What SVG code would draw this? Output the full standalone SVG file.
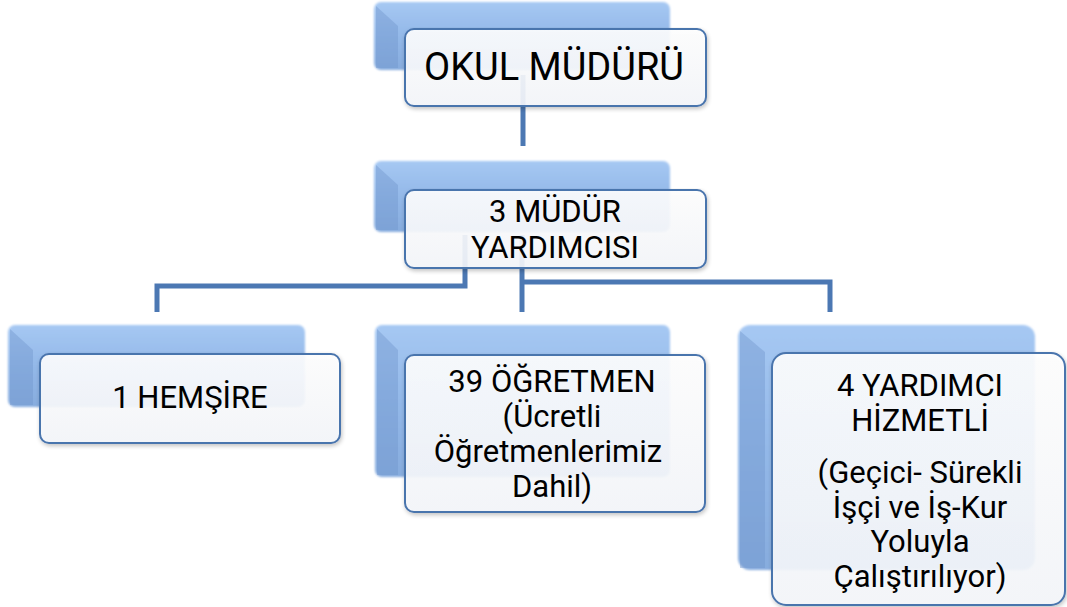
<svg xmlns="http://www.w3.org/2000/svg" width="1067" height="607" viewBox="0 0 1067 607">
<defs>
<linearGradient id="blueG" x1="0" y1="0" x2="0" y2="1">
<stop offset="0" stop-color="#a6c8f3"/>
<stop offset="0.5" stop-color="#93b8e8"/>
<stop offset="1" stop-color="#87acde"/>
</linearGradient>
<linearGradient id="whiteG" x1="0" y1="0" x2="0" y2="1">
<stop offset="0" stop-color="#ffffff"/>
<stop offset="1" stop-color="#f5f7fb"/>
</linearGradient>
<filter id="soft" x="-5%" y="-5%" width="110%" height="110%">
<feGaussianBlur stdDeviation="1.2"/>
</filter>
<filter id="shadow" x="-5%" y="-5%" width="115%" height="115%">
<feGaussianBlur in="SourceAlpha" stdDeviation="2"/>
<feOffset dx="1" dy="2"/>
<feComponentTransfer><feFuncA type="linear" slope="0.25"/></feComponentTransfer>
<feMerge><feMergeNode/><feMergeNode in="SourceGraphic"/></feMerge>
</filter>
</defs>
<style>
.blue{fill:url(#blueG);filter:url(#soft);}
.bevel{fill:#6d93cb;opacity:0.4;}
.white{fill:url(#whiteG);fill-opacity:0.9;stroke:#4a74ad;stroke-width:2;}
.conn{fill:none;stroke:#4c78b3;stroke-width:5;}
text{font-family:Roboto,"Liberation Sans",sans-serif;fill:#000;text-anchor:middle;font-weight:400;}
.t1{font-size:38px;}
.t{font-size:31px;}
</style>
<g id="connectors">
<path class="conn" d="M523 75 V146"/>
<path class="conn" d="M465 235 V286 H157 V312"/>
<path class="conn" d="M522 235 V312"/>
<path class="conn" d="M522 282 H830 V312"/>
</g>
<g id="node-mudur">
<rect class="blue" x="374" y="2" width="296" height="68" rx="7"/>
<polygon class="bevel" points="376,6 398,26 398,68 376,68"/>
<rect class="white" x="405" y="29" width="301" height="77" rx="9" filter="url(#shadow)"/>
<text class="t1" x="554" y="80">OKUL MÜDÜRÜ</text>
</g>
<g id="node-yardimci">
<rect class="blue" x="374" y="161" width="296" height="71" rx="7"/>
<polygon class="bevel" points="376,165 398,185 398,230 376,230"/>
<rect class="white" x="405" y="190" width="301" height="78" rx="9" filter="url(#shadow)"/>
<text class="t" x="555" y="222">3 MÜDÜR</text>
<text class="t" x="555" y="258">YARDIMCISI</text>
</g>
<g id="node-hemsire">
<rect class="blue" x="8" y="325" width="297" height="82" rx="7"/>
<polygon class="bevel" points="10,329 33,350 33,405 10,405"/>
<rect class="white" x="40" y="354" width="300" height="89" rx="9" filter="url(#shadow)"/>
<text class="t" x="190" y="408">1 HEMŞİRE</text>
</g>
<g id="node-ogretmen">
<rect class="blue" x="375" y="325" width="295" height="152" rx="7"/>
<polygon class="bevel" points="377,329 398,350 398,475 377,475"/>
<rect class="white" x="405" y="355" width="300" height="157" rx="9" filter="url(#shadow)"/>
<text class="t" x="552" y="392">39 ÖĞRETMEN</text>
<text class="t" x="552" y="427">(Ücretli</text>
<text class="t" x="548" y="462">Öğretmenlerimiz</text>
<text class="t" x="552" y="497">Dahil)</text>
</g>
<g id="node-hizmetli">
<rect class="blue" x="738" y="325" width="297" height="245" rx="12"/>
<polygon class="bevel" points="740,331 765,352 765,568 740,568"/>
<rect class="white" x="772" y="353" width="293" height="252" rx="14" filter="url(#shadow)"/>
<text class="t" x="920" y="396">4 YARDIMCI</text>
<text class="t" x="920" y="431">HİZMETLİ</text>
<text class="t" x="920" y="483">(Geçici- Sürekli</text>
<text class="t" x="920" y="518">İşçi ve İş-Kur</text>
<text class="t" x="920" y="552">Yoluyla</text>
<text class="t" x="920" y="587">Çalıştırılıyor)</text>
</g>
</svg>
